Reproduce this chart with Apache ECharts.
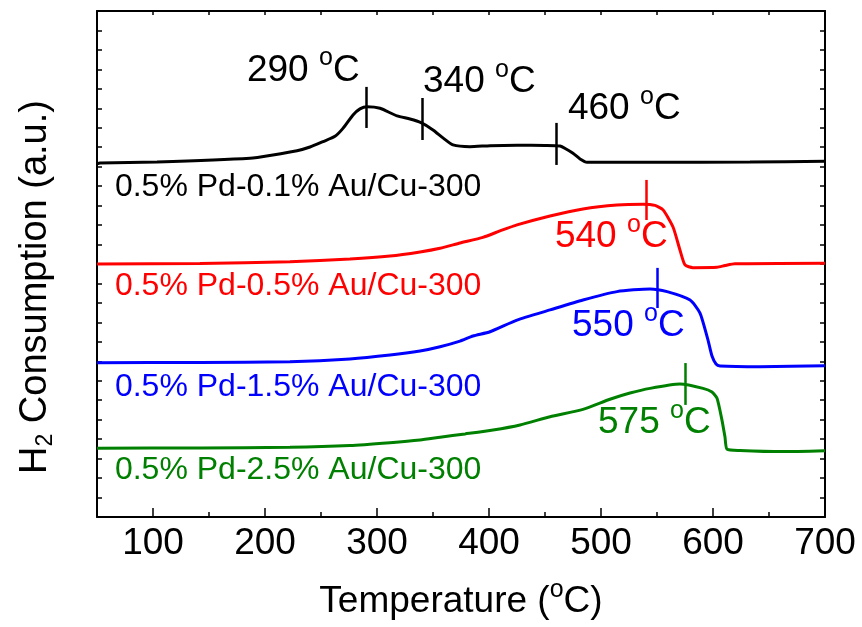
<!DOCTYPE html>
<html><head><meta charset="utf-8">
<script src="https://cdn.jsdelivr.net/npm/echarts@6/dist/echarts.min.js"></script>
<style>html,body{margin:0;padding:0;background:#fff}#c{width:862px;height:627px}</style>
</head><body><div id="c"></div>
<script>
// ---------- data ----------
const sampleNames = ['0.5% Pd-0.1% Au/Cu-300', '0.5% Pd-0.5% Au/Cu-300', '0.5% Pd-1.5% Au/Cu-300', '0.5% Pd-2.5% Au/Cu-300'];
const xTickLabels = [100, 200, 300, 400, 500, 600, 700];

const tempBlack = [50, 52.7, 103.6, 186.6, 207.1, 228.6, 240.2, 251.8, 262.5, 269.6, 278.6, 284.8, 291.1, 302.7, 317.9, 329.5, 339.3, 350, 358.9, 367.9, 383, 400.9, 425, 450, 463.4, 468.8, 475, 481.3, 487.5, 543.8, 633, 700];
const valBlack  = [18.14, 18.19, 18.24, 18.43, 18.60, 18.82, 19.01, 19.29, 19.56, 19.97, 20.66, 20.97, 21.08, 21.00, 20.61, 20.45, 20.26, 19.89, 19.48, 19.12, 19.03, 19.08, 19.10, 19.09, 19.06, 18.91, 18.69, 18.40, 18.23, 18.23, 18.24, 18.28];

const tempRed = [50, 142, 222.3, 275.9, 311.6, 338.4, 356.3, 374.1, 394.6, 409.8, 425, 454.5, 483.9, 514.3, 537.5, 548.2, 555.4, 564.3, 570.5, 575, 582.1, 603.6, 610.7, 619.6, 700];
const valRed  = [13.00, 13.03, 13.12, 13.26, 13.41, 13.62, 13.81, 14.08, 14.37, 14.70, 15.01, 15.47, 15.83, 16.03, 16.07, 16.01, 15.78, 14.90, 13.72, 12.95, 12.81, 12.83, 12.92, 13.01, 13.04];

const tempBlue = [50, 142, 222.3, 275.9, 311.6, 338.4, 356.3, 374.1, 385.7, 400.9, 425, 454.5, 483.9, 514.3, 543.8, 559, 579.5, 588.4, 595.5, 599.1, 602.7, 606.3, 642, 700];
const valBlue  = [7.93, 7.94, 7.98, 8.12, 8.32, 8.53, 8.75, 9.04, 9.30, 9.52, 10.12, 10.64, 11.15, 11.58, 11.72, 11.58, 11.15, 10.48, 9.10, 8.27, 7.86, 7.76, 7.72, 7.77];

const tempGreen = [50, 142, 222.3, 275.9, 311.6, 338.4, 356.3, 378.6, 403.6, 427.7, 454.5, 483.9, 508, 525.9, 543.8, 570.5, 591.1, 599.1, 603.6, 608, 610.7, 612.5, 624.1, 662.5, 700];
const valGreen  = [3.53, 3.55, 3.58, 3.67, 3.82, 3.96, 4.10, 4.27, 4.47, 4.73, 5.15, 5.53, 6.05, 6.37, 6.61, 6.83, 6.61, 6.42, 6.10, 4.98, 4.11, 3.49, 3.42, 3.36, 3.41];

// peak annotations: temperature, marker span (low, high)
const peakTemps  = [[290, 340, 460], [540], [550], [575]];
const peakLow    = [[19.99, 19.37, 18.09], [15.26], [10.74], [5.76]];
const peakHigh   = [[22.10, 21.53, 20.25], [17.32], [12.80], [7.91]];

// ---------- styling / layout ----------
const temps = [tempBlack, tempRed, tempBlue, tempGreen];
const vals = [valBlack, valRed, valBlue, valGreen];
const colors = ['#000000', '#ff0000', '#0000ff', '#008000'];
const FONT = '"Liberation Sans", Arial, sans-serif';
// text anchors in data coordinates (left edge, vertical middle)
const peakLabelPos = [[[183.9, 22.95], [341.1, 22.35], [470.5, 20.95]], [[458.9, 14.39]], [[474.1, 9.80]], [[497.3, 4.83]]];
const nameLabelPos = [[66, 16.93], [66, 11.87], [66, 6.68], [66, 2.42]];

const chart = echarts.init(document.getElementById('c'), null, {renderer: 'canvas'});

const tickStyle = {color: '#000', width: 1.5};
const lineStyle = {color: '#000', width: 2};

const option = {
  animation: false,
  backgroundColor: '#fff',
  grid: {left: 97, right: 37, top: 11, bottom: 110, containLabel: false, outerBoundsMode: 'none'},
  xAxis: [
    {type: 'value', position: 'bottom', min: 50, max: 700, interval: 50,
     axisLine: {show: true, onZero: false, lineStyle},
     axisTick: {show: true, inside: true, length: 5, lineStyle: tickStyle},
     axisLabel: {show: true, customValues: xTickLabels, fontSize: 37, color: '#000', fontFamily: FONT, margin: 8},
     splitLine: {show: false},
     name: 'Temperature ({sup|o}C)', nameLocation: 'middle', nameGap: 64,
     nameTextStyle: {fontSize: 37, lineHeight: 42, color: '#000', fontFamily: FONT,
       rich: {sup: {fontSize: 25, lineHeight: 42, color: '#000', fontFamily: FONT, padding: [0, 0, 24, 0]}}}},
    {type: 'value', position: 'bottom', min: 50, max: 700,
     axisLine: {show: false},
     axisTick: {show: true, inside: true, length: 9, customValues: xTickLabels, lineStyle: tickStyle},
     axisLabel: {show: false}, splitLine: {show: false}},
    {type: 'value', position: 'top', min: 50, max: 700, interval: 50,
     axisLine: {show: true, onZero: false, lineStyle},
     axisTick: {show: true, inside: true, length: 4, lineStyle: tickStyle},
     axisLabel: {show: false}, splitLine: {show: false}}
  ],
  yAxis: [
    {type: 'value', position: 'left', min: 0, max: 26, interval: 1,
     axisLine: {show: true, onZero: false, lineStyle},
     axisTick: {show: true, inside: true, length: 5, lineStyle: tickStyle},
     axisLabel: {show: false}, splitLine: {show: false},
     name: 'H{sub|2} Consumption (a.u.)', nameLocation: 'middle', nameGap: 40,
     nameTextStyle: {fontSize: 38, lineHeight: 42, color: '#000', fontFamily: FONT, padding: [0, 46, 0, 0],
       rich: {sub: {fontSize: 23, lineHeight: 42, color: '#000', fontFamily: FONT, padding: [20, 0, 0, 0]}}}},
    {type: 'value', position: 'right', min: 0, max: 26, interval: 1,
     axisLine: {show: true, onZero: false, lineStyle},
     axisTick: {show: true, inside: true, length: 5, lineStyle: tickStyle},
     axisLabel: {show: false}, splitLine: {show: false}}
  ],
  series: sampleNames.map((name, i) => ({
    name, type: 'line', xAxisIndex: 0, yAxisIndex: 0,
    data: temps[i].map((t, k) => [t, vals[i][k]]),
    showSymbol: false, symbol: 'none', smooth: 0.2,
    color: colors[i],
    lineStyle: {color: colors[i], width: 3},
    markLine: {
      silent: true, symbol: 'none', label: {show: false},
      lineStyle: {color: colors[i], width: 2.5, type: 'solid'},
      emphasis: {disabled: true},
      data: peakTemps[i].map((t, k) => [{coord: [t, peakLow[i][k]]}, {coord: [t, peakHigh[i][k]]}])
    }
  }))
};
chart.setOption(option);

// text annotations placed through the chart's own coordinate system
const graphics = [];
sampleNames.forEach((name, i) => {
  const p = chart.convertToPixel({gridIndex: 0}, nameLabelPos[i]);
  graphics.push({type: 'text', x: p[0], y: p[1], silent: true,
    style: {text: name, fill: colors[i], fontSize: 32, fontFamily: FONT, textAlign: 'left', textVerticalAlign: 'middle'}});
  peakTemps[i].forEach((t, k) => {
    const q = chart.convertToPixel({gridIndex: 0}, peakLabelPos[i][k]);
    graphics.push({type: 'text', x: q[0], y: q[1], silent: true,
      style: {text: t + ' {sup|o}C', fill: colors[i], fontSize: 37, lineHeight: 42, fontFamily: FONT,
        textAlign: 'left', textVerticalAlign: 'middle',
        rich: {sup: {fontSize: 25, lineHeight: 42, fill: colors[i], fontFamily: FONT, padding: [0, 0, 24, 0]}}}});
  });
});
chart.setOption({graphic: graphics});
</script>
</body></html>
